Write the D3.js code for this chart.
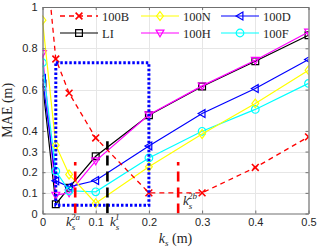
<!DOCTYPE html>
<html>
<head>
<meta charset="utf-8">
<script src="https://cdn.jsdelivr.net/npm/d3@7"></script>
<style>
  body { margin: 0; background: #fff; }
  svg { display: block; }
</style>
</head>
<body>
<svg id="chart" width="320" height="250"></svg>
<script>
// roughness values (m) at which every method was evaluated
var ks = [0, 0.025, 0.05, 0.1, 0.2, 0.3, 0.4, 0.5];

var mae100B = [1.42, 0.748, 0.583, 0.366, 0.1, 0.1, 0.223, 0.371];
var mae100N = [0.936, 0.331, 0.189, 0.05, 0.226, 0.385, 0.533, 0.694];
var mae100D = [0.654, 0.158, 0.129, 0.16, 0.327, 0.484, 0.605, 0.746];
var maeLI = [0.63, 0.045, 0.125, 0.277, 0.476, 0.615, 0.737, 0.863];
var mae100H = [0.775, 0.089, 0.10, 0.255, 0.478, 0.618, 0.742, 0.879];
var mae100F = [0.73, 0.205, 0.11, 0.105, 0.269, 0.398, 0.504, 0.63];

var seriesNames = ['100B', '100N', '100D', 'LI', '100H', '100F'];

// marked roughness values k_s^{2a}, k_s^1, k_s^{2b}
var refKs = [0.0615, 0.122, 0.255];
var refTop = [0.25, 0.35, 0.25];
var refSup = ['2a', '1', '2b'];

// zoomed region
var boxKs = [0.025, 0.2];
var boxMae = [0.04, 0.73];

var xTicks = [0, 0.1, 0.2, 0.3, 0.4, 0.5];
var yTicks = [0, 0.1, 0.2, 0.3, 0.4, 0.6, 0.8, 1];

var styles = {
    '100B': {color: '#ff0000', dash: '5,4', marker: 'x', width: 1.3},
    '100N': {color: '#ffff00', dash: null, marker: 'diamond', width: 1.2},
    '100D': {color: '#0000ff', dash: null, marker: 'left', width: 1.2},
    'LI': {color: '#000000', dash: null, marker: 'square', width: 1.2},
    '100H': {color: '#ff00ff', dash: null, marker: 'down', width: 1.2},
    '100F': {color: '#00ffff', dash: null, marker: 'circle', width: 1.2}
};

var dataBy = {
    '100B': mae100B, '100N': mae100N, '100D': mae100D,
    'LI': maeLI, '100H': mae100H, '100F': mae100F
};

var svg = d3.select('#chart');

var x = d3.scaleLinear().domain([0, 0.5]).range([42.5, 308.5]),
    y = d3.scaleLinear().domain([0, 1]).range([213.5, 7]);

var axisColor = '#707070',
    tickFont = '"Liberation Sans", Arial, sans-serif',
    serif = '"Liberation Serif", "Times New Roman", serif';

svg.append('defs').append('clipPath').attr('id', 'plotclip')
    .append('rect')
    .attr('x', x(0)).attr('y', y(1))
    .attr('width', x(0.5) - x(0)).attr('height', y(0) - y(1));

// grid
var grid = svg.append('g').attr('stroke', '#e6e6e6').attr('stroke-width', 1);
grid.selectAll('line.gx').data(xTicks.slice(1, -1)).enter().append('line')
    .attr('x1', function(d) { return Math.round(x(d)) + 0.5; })
    .attr('x2', function(d) { return Math.round(x(d)) + 0.5; })
    .attr('y1', y(0)).attr('y2', y(1));
grid.selectAll('line.gy').data(yTicks.slice(1, -1)).enter().append('line')
    .attr('y1', function(d) { return Math.round(y(d)) + 0.5; })
    .attr('y2', function(d) { return Math.round(y(d)) + 0.5; })
    .attr('x1', x(0)).attr('x2', x(0.5));

function markerPath(type, s) {
    switch(type) {
        case 'square':
            return 'M' + (-s) + ',' + (-s) + 'H' + s + 'V' + s + 'H' + (-s) + 'Z';
        case 'diamond':
            return 'M0,' + (-s * 1.3) + 'L' + s + ',0L0,' + (s * 1.3) + 'L' + (-s) + ',0Z';
        case 'down':
            return 'M' + (-s * 1.15) + ',' + (-s * 0.85) + 'H' + (s * 1.15) + 'L0,' + (s * 1.15) + 'Z';
        case 'left':
            return 'M' + (-s * 1.15) + ',0L' + (s * 0.85) + ',' + (-s * 1.15) + 'V' + (s * 1.15) + 'Z';
        case 'x':
            return 'M' + (-s) + ',' + (-s) + 'L' + s + ',' + s + 'M' + s + ',' + (-s) + 'L' + (-s) + ',' + s;
        case 'circle':
            return d3.symbol(d3.symbolCircle, Math.PI * s * s * 1.25)();
    }
}

var line = d3.line()
    .x(function(d) { return x(d[0]); })
    .y(function(d) { return y(d[1]); });

var plot = svg.append('g').attr('clip-path', 'url(#plotclip)');

var drawOrder = ['LI', '100H', '100D', '100F', '100N', '100B'];

drawOrder.forEach(function(name) {
    var st = styles[name],
        pts = ks.map(function(k, i) { return [k, dataBy[name][i]]; });

    plot.append('path')
        .attr('d', line(pts))
        .attr('fill', 'none')
        .attr('stroke', st.color)
        .attr('stroke-width', st.width)
        .attr('stroke-dasharray', st.dash);

    plot.selectAll(null).data(pts).enter().append('path')
        .attr('transform', function(d) { return 'translate(' + x(d[0]) + ',' + y(d[1]) + ')'; })
        .attr('d', markerPath(st.marker, 3.4))
        .attr('fill', 'none')
        .attr('stroke', st.color)
        .attr('stroke-width', st.marker === 'x' ? 1.6 : 1.2);
});

// dotted zoom box
plot.append('rect')
    .attr('x', x(boxKs[0])).attr('y', y(boxMae[1]))
    .attr('width', x(boxKs[1]) - x(boxKs[0]))
    .attr('height', y(boxMae[0]) - y(boxMae[1]))
    .attr('fill', 'none')
    .attr('stroke', '#0000ff')
    .attr('stroke-width', 3)
    .attr('stroke-dasharray', '2.5,2');

// reference verticals
var refColors = ['#ff0000', '#000000', '#ff0000'];
plot.selectAll('line.ref').data(refKs).enter().append('line')
    .attr('x1', function(d) { return x(d); })
    .attr('x2', function(d) { return x(d); })
    .attr('y1', y(0))
    .attr('y2', function(d, i) { return y(refTop[i]); })
    .attr('stroke', function(d, i) { return refColors[i]; })
    .attr('stroke-width', 2.6)
    .attr('stroke-dasharray', '10,6');

// axes box with inward ticks
var ax = svg.append('g');

ax.append('g')
    .attr('transform', 'translate(0,' + y(0) + ')')
    .call(d3.axisBottom(x).tickValues(xTicks).tickSizeInner(-3).tickSizeOuter(0).tickPadding(5)
        .tickFormat(d3.format('~g')));
ax.append('g')
    .attr('transform', 'translate(' + x(0) + ',0)')
    .call(d3.axisLeft(y).tickValues(yTicks).tickSizeInner(-3).tickSizeOuter(0).tickPadding(5)
        .tickFormat(d3.format('~g')));
ax.append('g')
    .attr('transform', 'translate(0,' + y(1) + ')')
    .call(d3.axisTop(x).tickValues(xTicks).tickSizeInner(-3).tickSizeOuter(0).tickFormat(''));
ax.append('g')
    .attr('transform', 'translate(' + x(0.5) + ',0)')
    .call(d3.axisRight(y).tickValues(yTicks).tickSizeInner(-3).tickSizeOuter(0).tickFormat(''));

ax.selectAll('.domain').attr('stroke', axisColor).attr('stroke-width', 1.2);
ax.selectAll('.tick line').attr('stroke', axisColor);
ax.selectAll('.tick text')
    .attr('fill', '#262626')
    .style('font-family', tickFont)
    .style('font-size', '11px');

// k_s labels: italic k, subscript s, superscript stacked above it
function ksLabel(g, sup) {
    g.append('tspan').text('k').style('font-style', 'italic');
    var sx = g.append('tspan').text('s').attr('dy', 3.5)
        .style('font-style', 'italic').style('font-size', '9px');
    if(sup) {
        g.append('tspan').text(sup).attr('dx', -4.2).attr('dy', -10)
            .style('font-style', 'italic').style('font-size', '9px');
    }
}

var refLabelX = [66, 110, 183],
    refLabelY = [226, 226, 205];
refKs.forEach(function(k, i) {
    var t = svg.append('text')
        .attr('x', refLabelX[i]).attr('y', refLabelY[i])
        .style('font-family', serif)
        .style('font-size', '13px')
        .attr('fill', '#262626');
    ksLabel(t, refSup[i]);
});

// axis titles
var xt = svg.append('text')
    .attr('x', x(0.25)).attr('y', 243)
    .attr('text-anchor', 'middle')
    .style('font-family', serif)
    .style('font-size', '14px')
    .attr('fill', '#262626');
xt.append('tspan').text('k').style('font-style', 'italic');
xt.append('tspan').text('s').attr('dy', 3).style('font-style', 'italic').style('font-size', '9px');
xt.append('tspan').text(' (m)').attr('dy', -3);

svg.append('text')
    .attr('transform', 'translate(12,' + ((y(0) + y(1)) / 2) + ') rotate(-90)')
    .attr('text-anchor', 'middle')
    .style('font-family', serif)
    .style('font-size', '14px')
    .attr('fill', '#262626')
    .text('MAE (m)');

// legend, three columns, no frame
var legCols = [60, 141, 221],
    legRows = [16, 33];
var legend = svg.append('g');
seriesNames.forEach(function(name, i) {
    var st = styles[name],
        lx = legCols[i % 3],
        ly = legRows[Math.floor(i / 3)];
    var g = legend.append('g').attr('transform', 'translate(' + lx + ',' + ly + ')');
    g.append('line')
        .attr('x1', 0).attr('x2', 38)
        .attr('stroke', st.color)
        .attr('stroke-width', st.width)
        .attr('stroke-dasharray', st.dash);
    g.append('path')
        .attr('transform', 'translate(19,0)')
        .attr('d', markerPath(st.marker, 3.4))
        .attr('fill', 'none')
        .attr('stroke', st.color)
        .attr('stroke-width', st.marker === 'x' ? 1.6 : 1.2);
    g.append('text')
        .attr('x', 42).attr('y', 4.5)
        .style('font-family', serif)
        .style('font-size', '12.5px')
        .attr('fill', '#262626')
        .text(name);
});
</script>
</body>
</html>
